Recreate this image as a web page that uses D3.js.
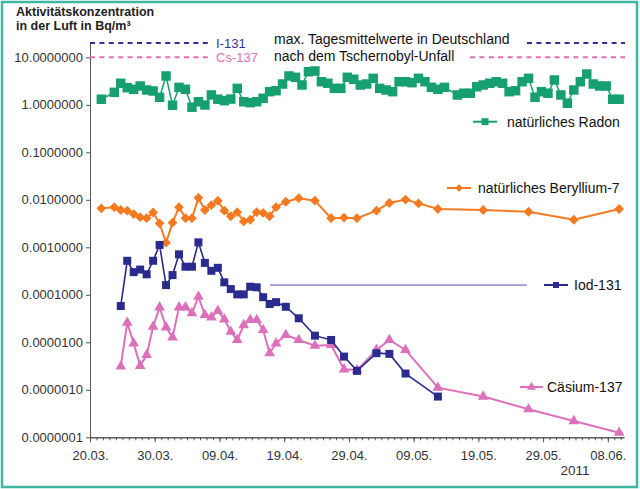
<!DOCTYPE html>
<html><head><meta charset="utf-8">
<script src="https://cdn.jsdelivr.net/npm/d3@7"></script>
<style>body{margin:0;background:#fff}svg{display:block}text{font-family:"Liberation Sans",Arial,sans-serif}</style>
</head><body><svg id="c" width="640" height="489"></svg>
<script>
// ---------- DATA ----------
const xTickLabels = ["20.03.","30.03.","09.04.","19.04.","29.04.","09.05.","19.05.","29.05.","08.06."];
const xTickDates  = ["2011-03-20","2011-03-30","2011-04-09","2011-04-19","2011-04-29","2011-05-09","2011-05-19","2011-05-29","2011-06-08"];
const yTicks = [1e-7,1e-6,1e-5,1e-4,1e-3,1e-2,1e-1,1,10];

const radonDates = ["2011-03-21","2011-03-23","2011-03-24","2011-03-25","2011-03-26","2011-03-27","2011-03-28","2011-03-29","2011-03-30","2011-03-31",
 "2011-04-01","2011-04-02","2011-04-03","2011-04-04","2011-04-05","2011-04-06","2011-04-07","2011-04-08","2011-04-09","2011-04-10",
 "2011-04-11","2011-04-12","2011-04-13","2011-04-14","2011-04-15","2011-04-16","2011-04-17","2011-04-18","2011-04-19","2011-04-20",
 "2011-04-21","2011-04-22","2011-04-23","2011-04-24","2011-04-25","2011-04-26","2011-04-27","2011-04-28","2011-04-29","2011-04-30",
 "2011-05-01","2011-05-02","2011-05-03","2011-05-04","2011-05-05","2011-05-06","2011-05-07","2011-05-08","2011-05-09","2011-05-10",
 "2011-05-11","2011-05-12","2011-05-13","2011-05-15","2011-05-16","2011-05-17","2011-05-18","2011-05-19","2011-05-20",
 "2011-05-21","2011-05-22","2011-05-23","2011-05-24","2011-05-25","2011-05-26","2011-05-27","2011-05-28","2011-05-29","2011-05-30",
 "2011-05-31","2011-06-01","2011-06-02","2011-06-03","2011-06-04","2011-06-05","2011-06-06","2011-06-07","2011-06-08","2011-06-09"];
const radonValues = [1.31,1.83,2.84,2.29,2.12,2.49,2.05,1.95,1.44,4.04,
 0.98,2.33,2.12,0.89,1.16,0.99,1.61,1.31,1.22,1.32,
 2.22,1.16,1.11,1.16,1.37,1.89,1.98,2.74,4.04,3.79,
 2.61,4.97,5.15,3.06,2.84,2.22,2.22,3.79,3.45,2.61,
 2.74,3.61,2.22,2.05,1.89,3.06,3.06,2.92,3.61,3.06,
 2.33,2.12,2.33,1.61,1.75,1.75,2.40,2.61,2.84,
 3.06,2.84,1.89,1.98,3.06,3.61,1.44,1.89,1.75,3.33,
 1.61,1.08,2.05,3.06,4.45,2.74,2.49,2.49,1.31,1.31];

const berylliumDates = ["2011-03-21","2011-03-23","2011-03-24","2011-03-25","2011-03-26","2011-03-27","2011-03-28","2011-03-29","2011-03-30","2011-03-31",
 "2011-04-01","2011-04-02","2011-04-03","2011-04-04","2011-04-05","2011-04-06","2011-04-07","2011-04-08","2011-04-09","2011-04-10",
 "2011-04-11","2011-04-12","2011-04-13","2011-04-14","2011-04-15","2011-04-16","2011-04-17","2011-04-18T12","2011-04-20T12","2011-04-23",
 "2011-04-25T12","2011-04-27T12","2011-04-29T12","2011-05-02T12","2011-05-04T12","2011-05-07","2011-05-09","2011-05-12","2011-05-19","2011-05-26",
 "2011-06-02","2011-06-09"];
const berylliumValues = [0.0066,0.0070,0.0061,0.0059,0.0050,0.0043,0.0041,0.0054,0.0032,0.00125,
 0.0033,0.0070,0.0041,0.0041,0.0110,0.0061,0.0077,0.0095,0.0059,0.0045,
 0.0055,0.0035,0.0038,0.0055,0.0053,0.0045,0.0070,0.0091,0.0108,0.0096,
 0.0041,0.0042,0.0041,0.0059,0.0086,0.0101,0.0084,0.0064,0.0061,0.0056,
 0.0038,0.0064];

const iodDates = ["2011-03-24","2011-03-25","2011-03-26","2011-03-27","2011-03-28","2011-03-29","2011-03-30","2011-03-31",
 "2011-04-01","2011-04-02","2011-04-03","2011-04-04","2011-04-05","2011-04-06","2011-04-07","2011-04-08","2011-04-09","2011-04-10",
 "2011-04-11","2011-04-12","2011-04-13","2011-04-14","2011-04-15","2011-04-16","2011-04-17","2011-04-18T12","2011-04-20T12","2011-04-23",
 "2011-04-25T12","2011-04-27T12","2011-04-29T12","2011-05-02T12","2011-05-04T12","2011-05-07","2011-05-12"];
const iodValues = [5.8e-5,5.2e-4,3.0e-4,3.4e-4,2.7e-4,5.2e-4,1.12e-3,1.6e-4,
 2.6e-4,7.1e-4,3.9e-4,3.9e-4,1.27e-3,4.7e-4,3.2e-4,3.7e-4,1.83e-4,1.32e-4,
 1.02e-4,1.02e-4,1.48e-4,1.44e-4,8.9e-5,6.4e-5,7.0e-5,5.6e-5,3.2e-5,1.38e-5,
 1.12e-5,5.0e-6,2.5e-6,5.9e-6,5.7e-6,2.2e-6,7.2e-7];

const caesiumDates = ["2011-03-24","2011-03-25","2011-03-26","2011-03-27","2011-03-28","2011-03-29","2011-03-30","2011-03-31",
 "2011-04-01","2011-04-02","2011-04-03","2011-04-04","2011-04-05","2011-04-06","2011-04-07","2011-04-08","2011-04-09","2011-04-10",
 "2011-04-11","2011-04-12","2011-04-13","2011-04-14","2011-04-15","2011-04-16","2011-04-17","2011-04-18T12","2011-04-20T12","2011-04-23",
 "2011-04-25T12","2011-04-27T12","2011-04-29T12","2011-05-02T12","2011-05-04T12","2011-05-07","2011-05-12","2011-05-19","2011-05-26",
 "2011-06-02","2011-06-09"];
const caesiumValues = [3.1e-6,2.6e-5,9.5e-6,3.2e-6,5.4e-6,2.13e-5,5.45e-5,2.07e-5,
 1.27e-5,5.45e-5,5.45e-5,4.1e-5,9.1e-5,3.76e-5,3.36e-5,4.6e-5,3.05e-5,1.67e-5,
 1.12e-5,2.31e-5,2.95e-5,2.95e-5,1.82e-5,5.9e-6,9.5e-6,1.43e-5,1.12e-5,8.5e-6,
 8.8e-6,2.7e-6,2.6e-6,6.9e-6,1.12e-5,6.9e-6,1.11e-6,7.2e-7,3.9e-7,2.2e-7,1.25e-7];

// max. daily means in Germany after Chernobyl
const chernobylLabels = ["I-131","Cs-137"];
const chernobylValues = [20, 10];
// thin reference line in the original
const refLineDates = ["2011-04-16T19","2011-05-26T12"];
const refLineValue = 1.6e-4;

// ---------- CHART ----------
const svg = d3.select("#c");
svg.append("rect").attr("x",2).attr("y",2).attr("width",635).attr("height",485)
  .attr("fill","#fff").attr("stroke","#3fb7a0").attr("stroke-width",2.5);

const parse = s => (s.length > 10 ? d3.utcParse("%Y-%m-%dT%H") : d3.utcParse("%Y-%m-%d"))(s);
const x = d3.scaleUtc().domain([parse("2011-03-20"), parse("2011-06-10T12")]).range([90, 624]);
const y = d3.scaleLog().domain([1e-7, 21.3]).range([437.3, 41.7]);
const SHIFT = 18 * 3600e3;
const px = s => x(new Date(parse(s).getTime() + SHIFT));

// Axes
const axisColor = "#555";
const yAxis = svg.append("g").attr("transform","translate(90,0)")
  .call(d3.axisLeft(y).tickValues(yTicks).tickFormat(d3.format(".7f")).tickSize(4).tickSizeOuter(0).tickPadding(3));
yAxis.selectAll("text").attr("font-size",13).attr("fill","#333").attr("font-family","Liberation Sans, Arial, sans-serif");

const minor = svg.append("g").attr("transform","translate(0,437.3)")
  .call(d3.axisBottom(x).tickValues(d3.utcDay.range(parse("2011-03-20"), parse("2011-06-11"))).tickSize(3).tickSizeOuter(0).tickFormat(""));
const xAxis = svg.append("g").attr("transform","translate(0,437.3)")
  .call(d3.axisBottom(x).tickValues(xTickDates.map(parse)).tickFormat((d,i)=>xTickLabels[i]).tickSize(5).tickSizeOuter(0).tickPadding(8));
xAxis.selectAll("text").attr("font-size",13).attr("fill","#333").attr("font-family","Liberation Sans, Arial, sans-serif");
[yAxis, minor, xAxis].forEach(g => { g.selectAll("path,line").attr("stroke", axisColor); });
svg.append("text").attr("x",575).attr("y",475).attr("text-anchor","middle").attr("font-size",13.5).attr("fill","#333").text("2011");

// Title
svg.append("text").attr("x",16).attr("y",15.5).attr("font-size",12.5).attr("font-weight","bold").attr("fill","#222").text("Aktivitätskonzentration");
svg.append("text").attr("x",16).attr("y",29.5).attr("font-size",12.5).attr("font-weight","bold").attr("fill","#222").text("in der Luft in Bq/m³");

// Chernobyl reference dashed lines
const chColors = ["#303098","#e070b4"];
const leftEnd = 210, rightStart = [527, 470], rightEnd = 625;
chernobylValues.forEach((v,i) => {
  const yy = y(v);
  svg.append("line").attr("x1",x.range()[0]).attr("x2",leftEnd).attr("y1",yy).attr("y2",yy)
    .attr("stroke",chColors[i]).attr("stroke-width",2).attr("stroke-dasharray","5,4.4");
  svg.append("line").attr("x1",rightStart[i]).attr("x2",rightEnd).attr("y1",yy).attr("y2",yy)
    .attr("stroke",chColors[i]).attr("stroke-width",2).attr("stroke-dasharray","5,4.4");
  svg.append("text").attr("x",216).attr("y",yy+4.7).attr("font-size",13).attr("fill",chColors[i]).text(chernobylLabels[i]);
});
svg.append("text").attr("x",274).attr("y",43.5).attr("font-size",14).attr("fill","#111").text("max. Tagesmittelwerte in Deutschland");
svg.append("text").attr("x",274).attr("y",60.5).attr("font-size",14).attr("fill","#111").text("nach dem Tschernobyl-Unfall");

// thin reference line
svg.append("line").attr("x1",x(parse(refLineDates[0]))).attr("x2",x(parse(refLineDates[1])))
  .attr("y1",y(refLineValue)).attr("y2",y(refLineValue)).attr("stroke","#9898d0").attr("stroke-width",1.6);

// Series
const sq = d3.symbol().type(d3.symbolSquare);
const tri = d3.symbol().type(d3.symbolTriangle);
const series = [
  {name:"natürliches Radon", dates:radonDates, values:radonValues, color:"#17a06f", width:1.5, sym:sq.size(90)(), rot:0, lsym:sq.size(49)(), lx:[473,497], ly:121.7, tx:507},
  {name:"natürliches Beryllium-7", dates:berylliumDates, values:berylliumValues, color:"#f47a22", width:2, sym:sq.size(48)(), rot:45, lsym:sq.size(30)(), lx:[447,471], ly:188, tx:478},
  {name:"Cäsium-137", dates:caesiumDates, values:caesiumValues, color:"#dd70bb", width:2, sym:tri.size(50)(), rot:0, lsym:tri.size(36)(), lx:[520,543], ly:387, tx:547},
  {name:"Iod-131", dates:iodDates, values:iodValues, color:"#2a2b8e", width:1.6, sym:sq.size(64)(), rot:0, lsym:sq.size(36)(), lx:[544,568], ly:285, tx:574}
];
series.forEach(s => {
  const pts = s.dates.map((d,i)=>[px(d), y(s.values[i])]);
  const g = svg.append("g");
  g.append("path").attr("d", d3.line()(pts)).attr("fill","none").attr("stroke",s.color).attr("stroke-width",s.width);
  g.selectAll("path.m").data(pts).join("path").attr("class","m").attr("d",s.sym).attr("fill",s.color)
    .attr("transform",p=>`translate(${p[0]},${p[1]}) rotate(${s.rot})`);
  // legend
  g.append("line").attr("x1",s.lx[0]).attr("x2",s.lx[1]).attr("y1",s.ly).attr("y2",s.ly).attr("stroke",s.color).attr("stroke-width",2);
  g.append("path").attr("d",s.lsym).attr("fill",s.color).attr("transform",`translate(${(s.lx[0]+s.lx[1])/2},${s.ly}) rotate(${s.rot})`);
  g.append("text").attr("x",s.tx).attr("y",s.ly+5).attr("font-size",14).attr("fill","#111").text(s.name);
});
</script></body></html>
